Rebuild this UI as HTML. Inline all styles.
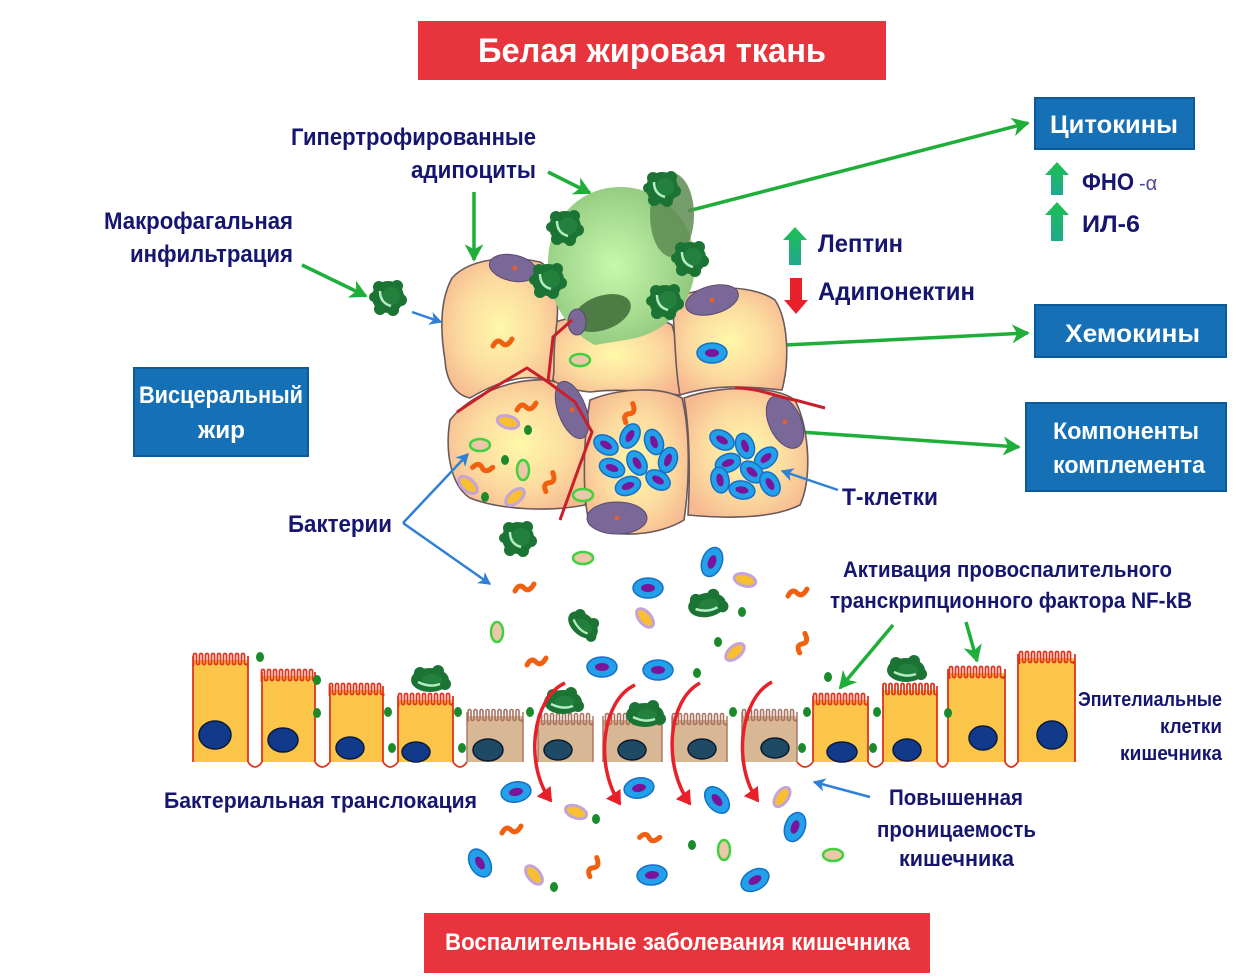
<!DOCTYPE html>
<html><head><meta charset="utf-8"><style>
html,body{margin:0;padding:0;background:#fff;}
svg{display:block;}
.t{font-family:"Liberation Sans Narrow","Liberation Sans",sans-serif;font-weight:bold;fill:#161670;}
.w{font-family:"Liberation Sans Narrow","Liberation Sans",sans-serif;font-weight:bold;fill:#fff;}
</style></head><body>
<svg width="1238" height="979" viewBox="0 0 1238 979" xmlns="http://www.w3.org/2000/svg">
<defs>
<marker id="ag" markerWidth="6" markerHeight="6" refX="4.5" refY="3" orient="auto" markerUnits="strokeWidth"><path d="M0,0.3 L5,3 L0,5.7 L1.4,3 z" fill="#1fae3a"/></marker>
<marker id="ab" markerWidth="6" markerHeight="6" refX="4.5" refY="3" orient="auto" markerUnits="strokeWidth"><path d="M0,0.3 L5,3 L0,5.7 L1.4,3 z" fill="#2f80d6"/></marker>
<marker id="ar" markerWidth="5" markerHeight="5" refX="3.5" refY="2.5" orient="auto" markerUnits="strokeWidth"><path d="M0,0 L4,2.5 L0,5 z" fill="#e8202a"/></marker>
<radialGradient id="fat" cx="0.5" cy="0.5" r="0.6"><stop offset="0" stop-color="#fff8a8"/><stop offset="0.55" stop-color="#fcdca0"/><stop offset="1" stop-color="#f6b890"/></radialGradient>
<radialGradient id="gc" cx="0.45" cy="0.5" r="0.6"><stop offset="0" stop-color="#c8f8ac"/><stop offset="1" stop-color="#8cc47a"/></radialGradient>
<linearGradient id="up" x1="0" y1="0" x2="0" y2="1"><stop offset="0" stop-color="#1ec050"/><stop offset="1" stop-color="#20a890"/></linearGradient>
<path id="vilR" fill="none" stroke="#e0341c" stroke-width="1.8" d="M0,14 V3 a1.5,1.5 0 0 1 3,0 V11 a1.5,1.5 0 0 0 3,0 V3 a1.5,1.5 0 0 1 3,0 V11 a1.5,1.5 0 0 0 3,0 V3 a1.5,1.5 0 0 1 3,0 V11 a1.5,1.5 0 0 0 3,0 V3 a1.5,1.5 0 0 1 3,0 V11 a1.5,1.5 0 0 0 3,0 V3 a1.5,1.5 0 0 1 3,0 V11 a1.5,1.5 0 0 0 3,0 V3 a1.5,1.5 0 0 1 3,0 V11 a1.5,1.5 0 0 0 3,0 V3 a1.5,1.5 0 0 1 3,0 V11 a1.5,1.5 0 0 0 3,0 V3 a1.5,1.5 0 0 1 3,0 V11 a1.5,1.5 0 0 0 3,0 V3 a1.5,1.5 0 0 1 3,0 V11 a1.5,1.5 0 0 0 3,0 V14"/>
<path id="vilB" fill="none" stroke="#a8705e" stroke-width="1.6" d="M0,14 V3 a1.5,1.5 0 0 1 3,0 V11 a1.5,1.5 0 0 0 3,0 V3 a1.5,1.5 0 0 1 3,0 V11 a1.5,1.5 0 0 0 3,0 V3 a1.5,1.5 0 0 1 3,0 V11 a1.5,1.5 0 0 0 3,0 V3 a1.5,1.5 0 0 1 3,0 V11 a1.5,1.5 0 0 0 3,0 V3 a1.5,1.5 0 0 1 3,0 V11 a1.5,1.5 0 0 0 3,0 V3 a1.5,1.5 0 0 1 3,0 V11 a1.5,1.5 0 0 0 3,0 V3 a1.5,1.5 0 0 1 3,0 V11 a1.5,1.5 0 0 0 3,0 V3 a1.5,1.5 0 0 1 3,0 V11 a1.5,1.5 0 0 0 3,0 V3 a1.5,1.5 0 0 1 3,0 V11 a1.5,1.5 0 0 0 3,0 V14"/>
<g id="mac"><circle r="16" fill="#1c7434"/><circle cx="-9" cy="-10" r="6" fill="#1c7434"/><circle cx="9" cy="-11" r="6" fill="#1c7434"/><circle cx="13" cy="3" r="6" fill="#1c7434"/><circle cx="5" cy="13" r="6" fill="#1c7434"/><circle cx="-8" cy="12" r="6" fill="#1c7434"/><circle cx="-14" cy="0" r="5" fill="#1c7434"/><circle cx="3" cy="-1" r="9" fill="#23803d"/><path d="M-8,-6 Q-8,6 3,9" fill="none" stroke="#b4ecc4" stroke-width="2.5"/></g>
<g id="mac2"><ellipse rx="19" ry="12" fill="#1c7434"/><circle cx="-10" cy="-7" r="6" fill="#1c7434"/><circle cx="8" cy="-9" r="6" fill="#1c7434"/><circle cx="15" cy="4" r="6" fill="#1c7434"/><ellipse cx="2" cy="0" rx="10" ry="6" fill="#23803d"/><path d="M-12,2 Q0,8 10,4" fill="none" stroke="#b4ecc4" stroke-width="2.5"/></g>
<g id="tc"><ellipse rx="13" ry="9" fill="#22a0ea" stroke="#1670c8" stroke-width="1.5"/><ellipse rx="6.5" ry="3.5" fill="#7a149a"/></g>
<g id="bc"><ellipse rx="15" ry="10" fill="#22a0ea" stroke="#1670c8" stroke-width="1.5"/><ellipse rx="7" ry="4" fill="#7a149a"/></g>
<path id="ow" d="M-10,3 q4,-8 9,-3 q5,5 10,-4" fill="none" stroke="#f06010" stroke-width="5" stroke-linecap="round"/>
<g id="li"><ellipse rx="11" ry="6" fill="#f8c030" stroke="#c4a4d8" stroke-width="3"/></g>
<g id="go"><ellipse rx="10" ry="6" fill="#ecc8a8" stroke="#40d040" stroke-width="2.5"/></g>
<g id="gd"><ellipse rx="4" ry="5" fill="#1a8a2a"/></g>
</defs>

<!-- Title -->
<rect x="418" y="21" width="468" height="59" fill="#e8343c"/>
<text class="w" x="478" y="62" font-size="34" textLength="348" lengthAdjust="spacingAndGlyphs">Белая жировая ткань</text>

<!-- Labels top-left -->
<text class="t" x="291" y="145" font-size="24" textLength="245" lengthAdjust="spacingAndGlyphs">Гипертрофированные</text>
<text class="t" x="411" y="178" font-size="24" textLength="125" lengthAdjust="spacingAndGlyphs">адипоциты</text>
<text class="t" x="104" y="229" font-size="24" textLength="189" lengthAdjust="spacingAndGlyphs">Макрофагальная</text>
<text class="t" x="130" y="262" font-size="24" textLength="163" lengthAdjust="spacingAndGlyphs">инфильтрация</text>

<!-- Visceral box -->
<rect x="134" y="368" width="174" height="88" fill="#1670b6" stroke="#0d5a98" stroke-width="2"/>
<text class="w" x="139" y="403" font-size="24" textLength="164" lengthAdjust="spacingAndGlyphs">Висцеральный</text>
<text class="w" x="198" y="438" font-size="24" textLength="47" lengthAdjust="spacingAndGlyphs">жир</text>

<!-- Right boxes -->
<rect x="1035" y="98" width="159" height="51" fill="#1670b6" stroke="#0d5a98" stroke-width="2"/>
<text class="w" x="1050" y="133" font-size="25" textLength="128" lengthAdjust="spacingAndGlyphs">Цитокины</text>
<rect x="1035" y="305" width="191" height="52" fill="#1670b6" stroke="#0d5a98" stroke-width="2"/>
<text class="w" x="1065" y="342" font-size="25" textLength="135" lengthAdjust="spacingAndGlyphs">Хемокины</text>
<rect x="1026" y="403" width="200" height="88" fill="#1670b6" stroke="#0d5a98" stroke-width="2"/>
<text class="w" x="1053" y="439" font-size="24" textLength="146" lengthAdjust="spacingAndGlyphs">Компоненты</text>
<text class="w" x="1053" y="473" font-size="24" textLength="152" lengthAdjust="spacingAndGlyphs">комплемента</text>

<!-- Leptin etc -->
<polygon points="795,227 807,240 801,240 801,265 789,265 789,240 783,240" fill="url(#up)"/>
<text class="t" x="818" y="252" font-size="25" textLength="85" lengthAdjust="spacingAndGlyphs">Лептин</text>
<polygon points="790,278 802,278 802,300 808,300 796,314 784,300 790,300" fill="#e8202a"/>
<text class="t" x="818" y="300" font-size="25" textLength="157" lengthAdjust="spacingAndGlyphs">Адипонектин</text>
<polygon points="1057,162 1069,175 1063,175 1063,195 1051,195 1051,175 1045,175" fill="url(#up)"/>
<text class="t" x="1082" y="190" font-size="24" textLength="52" lengthAdjust="spacingAndGlyphs">ФНО</text>
<text x="1139" y="190" font-size="20" fill="#4a4a90" font-family="Liberation Sans, sans-serif">-α</text>
<polygon points="1057,202 1069,215 1063,215 1063,241 1051,241 1051,215 1045,215" fill="url(#up)"/>
<text class="t" x="1082" y="232" font-size="24" textLength="58" lengthAdjust="spacingAndGlyphs">ИЛ-6</text>

<!-- green arrows -->
<g stroke="#1fae3a" stroke-width="3.5" fill="none" marker-end="url(#ag)">
<line x1="688" y1="211" x2="1028" y2="123"/>
<line x1="785" y1="345" x2="1028" y2="333"/>
<line x1="800" y1="432" x2="1019" y2="447"/>
<line x1="548" y1="172" x2="590" y2="193"/>
<line x1="474" y1="192" x2="474" y2="260"/>
<line x1="302" y1="265" x2="366" y2="296"/>
<line x1="893" y1="625" x2="840" y2="688"/>
<line x1="966" y1="622" x2="977" y2="661"/>
</g>

<!-- Adipocyte cluster -->
<g stroke="#6a5a5a" stroke-width="1.6" fill="url(#fat)">
<path d="M548,325 C580,310 650,312 672,325 C680,350 678,375 680,395 C650,392 620,388 590,392 C570,390 558,385 553,380 C552,360 550,340 548,325 Z"/>
<path d="M452,278 C470,258 510,255 540,262 C556,270 560,300 556,330 C552,355 556,372 552,382 C530,372 500,380 470,398 C455,395 446,380 445,360 C440,330 440,300 452,278 Z"/>
<path d="M672,300 C700,285 750,283 775,300 C788,320 790,360 782,390 C760,388 720,382 680,395 C675,370 675,330 672,300 Z"/>
</g>
<!-- green adipocyte -->
<path d="M620,187 C665,187 697,225 695,268 C693,305 665,335 625,340 L595,345 C575,335 550,310 548,268 C546,222 578,187 620,187 Z" fill="url(#gc)"/>
<ellipse cx="672" cy="215" rx="22" ry="42" fill="#5e8c52" opacity="0.85"/>
<ellipse cx="602" cy="313" rx="30" ry="17" transform="rotate(-20 602 313)" fill="#4e7c44"/>
<g stroke="#6a5a5a" stroke-width="1.6" fill="url(#fat)">
<path d="M450,420 C470,395 510,378 548,380 C570,385 588,400 592,430 C594,460 590,490 585,505 C550,512 500,510 470,498 C450,485 445,450 450,420 Z"/>
<path d="M590,400 C620,388 660,386 682,398 C690,430 690,480 684,520 C660,535 615,540 590,525 C582,500 583,440 590,400 Z"/>
<path d="M684,398 C720,385 775,385 795,400 C810,430 812,480 800,505 C770,520 720,518 688,515 C690,480 690,430 684,398 Z"/>
</g>
<!-- purple nuclei -->
<g fill="#7a6898" stroke="#5a4a70" stroke-width="1">
<ellipse cx="513" cy="268" rx="24" ry="13" transform="rotate(12 513 268)"/>
<ellipse cx="712" cy="300" rx="27" ry="14" transform="rotate(-15 712 300)"/>
<ellipse cx="572" cy="410" rx="14" ry="30" transform="rotate(-20 572 410)"/>
<ellipse cx="617" cy="518" rx="30" ry="16"/>
<ellipse cx="785" cy="422" rx="16" ry="28" transform="rotate(-25 785 422)"/>
<ellipse cx="577" cy="322" rx="9" ry="13"/>
</g>
<g fill="#e06030"><circle cx="515" cy="268" r="2.5"/><circle cx="712" cy="300" r="2.5"/><circle cx="572" cy="410" r="2.5"/><circle cx="617" cy="518" r="2.5"/><circle cx="785" cy="422" r="2.5"/></g>
<!-- vessels -->
<g stroke="#c8202a" stroke-width="3" fill="none" stroke-linejoin="round">
<path d="M457,412 L490,390 L527,368 L548,382 L553,337 L572,320"/>
<path d="M548,382 L575,402 L592,432 L578,470 L560,520"/>
<path d="M735,388 C760,388 780,398 795,400 L825,408"/>
</g>
<!-- macrophages on green cell -->
<use href="#mac" x="662" y="188"/>
<use href="#mac" x="565" y="227"/>
<use href="#mac" x="690" y="258"/>
<use href="#mac" x="548" y="280"/>
<use href="#mac" x="665" y="301"/>
<use href="#mac" x="388" y="297"/>
<!-- T cells -->
<use href="#tc" transform="translate(606,445) rotate(30)"/>
<use href="#tc" transform="translate(630,436) rotate(-60)"/>
<use href="#tc" transform="translate(654,442) rotate(70)"/>
<use href="#tc" transform="translate(668,460) rotate(-70)"/>
<use href="#tc" transform="translate(612,468) rotate(20)"/>
<use href="#tc" transform="translate(637,463) rotate(60)"/>
<use href="#tc" transform="translate(658,480) rotate(30)"/>
<use href="#tc" transform="translate(628,486) rotate(-20)"/>
<use href="#tc" transform="translate(722,440) rotate(30)"/>
<use href="#tc" transform="translate(745,446) rotate(70)"/>
<use href="#tc" transform="translate(766,458) rotate(-40)"/>
<use href="#tc" transform="translate(728,463) rotate(-20)"/>
<use href="#tc" transform="translate(752,472) rotate(40)"/>
<use href="#tc" transform="translate(770,484) rotate(60)"/>
<use href="#tc" transform="translate(742,490) rotate(10)"/>
<use href="#tc" transform="translate(720,480) rotate(80)"/>
<use href="#bc" x="712" y="353"/>
<!-- bacteria in cells -->
<use href="#ow" x="503" y="343"/>
<use href="#go" x="580" y="360"/>
<use href="#ow" x="527" y="407"/>
<use href="#li" transform="translate(508,422) rotate(15)"/>
<use href="#gd" x="528" y="430"/>
<use href="#go" x="480" y="445"/>
<use href="#ow" transform="translate(483,468) rotate(20)"/>
<use href="#gd" x="505" y="460"/>
<use href="#go" transform="translate(523,470) rotate(90)"/>
<use href="#ow" transform="translate(550,482) rotate(-50)"/>
<use href="#li" transform="translate(468,485) rotate(40)"/>
<use href="#li" transform="translate(515,497) rotate(-40)"/>
<use href="#gd" x="485" y="497"/>
<use href="#ow" transform="translate(630,413) rotate(-50)"/>
<use href="#go" x="583" y="495"/>

<!-- blue arrows (on top) -->
<g stroke="#2f80d6" stroke-width="2.5" fill="none" marker-end="url(#ab)">
<line x1="412" y1="312" x2="441" y2="322"/>
<line x1="403" y1="523" x2="468" y2="454"/>
<line x1="403" y1="523" x2="490" y2="584"/>
<line x1="838" y1="490" x2="782" y2="471"/>
<line x1="870" y1="797" x2="814" y2="782"/>
</g>

<!-- Labels middle -->
<text class="t" x="842" y="505" font-size="24" textLength="96" lengthAdjust="spacingAndGlyphs">Т-клетки</text>
<text class="t" x="288" y="532" font-size="24" textLength="104" lengthAdjust="spacingAndGlyphs">Бактерии</text>
<text class="t" x="843" y="577" font-size="22" textLength="329" lengthAdjust="spacingAndGlyphs">Активация провоспалительного</text>
<text class="t" x="830" y="608" font-size="22" textLength="362" lengthAdjust="spacingAndGlyphs">транскрипционного фактора NF-kB</text>

<!-- free bacteria upper -->
<use href="#mac" x="518" y="538"/>
<use href="#go" x="583" y="558"/>
<use href="#bc" transform="translate(712,562) rotate(-70)"/>
<use href="#li" transform="translate(745,580) rotate(15)"/>
<use href="#bc" x="648" y="588"/>
<use href="#ow" x="525" y="588"/>
<use href="#ow" x="798" y="593"/>
<use href="#mac2" transform="translate(707,605) rotate(-10)"/>
<use href="#gd" x="742" y="612"/>
<use href="#li" transform="translate(645,618) rotate(50)"/>
<use href="#mac2" transform="translate(583,625) rotate(40) scale(0.9)"/>
<use href="#go" transform="translate(497,632) rotate(90)"/>
<use href="#ow" transform="translate(803,643) rotate(-55)"/>
<use href="#gd" x="718" y="642"/>
<use href="#li" transform="translate(735,652) rotate(-40)"/>
<use href="#ow" x="537" y="662"/>
<use href="#bc" x="602" y="667"/>
<use href="#bc" x="658" y="670"/>
<use href="#gd" x="697" y="673"/>

<!-- Epithelium -->
<g>
<g fill="#fbc54a">
<rect x="193" y="660" width="55" height="102"/><rect x="262" y="676" width="53" height="86"/><rect x="330" y="690" width="53" height="72"/><rect x="398" y="700" width="55" height="62"/>
<rect x="813" y="700" width="55" height="62"/><rect x="883" y="690" width="54" height="72"/><rect x="948" y="673" width="57" height="89"/><rect x="1018" y="658" width="57" height="104"/>
</g>
<g fill="#d8b894">
<rect x="467" y="716" width="56" height="46"/><rect x="538" y="720" width="55" height="42"/><rect x="603" y="720" width="59" height="42"/><rect x="672" y="720" width="55" height="42"/><rect x="742" y="716" width="55" height="46"/>
</g>
<use href="#vilR" x="193.5" y="652"/><use href="#vilR" x="261.5" y="668"/><use href="#vilR" x="329.5" y="682"/><use href="#vilR" x="398.5" y="692"/>
<use href="#vilR" x="813.5" y="692"/><use href="#vilR" x="883" y="682"/><use href="#vilR" x="949.5" y="665"/><use href="#vilR" x="1019.5" y="650"/>
<use href="#vilB" x="468" y="708"/><use href="#vilB" x="538.5" y="712"/><use href="#vilB" x="605.5" y="712"/><use href="#vilB" x="672.5" y="712"/><use href="#vilB" x="742.5" y="708"/>
<g stroke="#e0341c" stroke-width="1.8" fill="none">
<path d="M193,656 V762 M248,656 V762 M262,672 V762 M315,672 V762 M330,686 V762 M383,686 V762 M398,696 V762 M453,696 V762"/>
<path d="M813,696 V762 M868,696 V762 M883,686 V762 M937,686 V762 M948,669 V762 M1005,669 V762 M1018,654 V762 M1075,654 V762"/>
<path d="M248,762 Q255,772 262,762 M315,762 Q322,772 330,762 M383,762 Q390,772 398,762 M453,762 Q460,772 467,762 M797,762 Q805,772 813,762 M868,762 Q875,772 883,762 M937,762 Q943,772 948,762 M1005,762 Q1011,772 1018,762"/>
</g>
<g stroke="#a8705e" stroke-width="1.4" fill="none">
<path d="M467,712 V762 M523,712 V762 M538,716 V762 M593,716 V762 M603,716 V762 M662,716 V762 M672,716 V762 M727,716 V762 M742,712 V762 M797,712 V762"/>
</g>
<g fill="#123a8a" stroke="#0a1a40" stroke-width="1.5">
<ellipse cx="215" cy="735" rx="16" ry="14"/><ellipse cx="283" cy="740" rx="15" ry="12"/><ellipse cx="350" cy="748" rx="14" ry="11"/><ellipse cx="416" cy="752" rx="14" ry="10"/>
<ellipse cx="842" cy="752" rx="15" ry="10"/><ellipse cx="907" cy="750" rx="14" ry="11"/><ellipse cx="983" cy="738" rx="14" ry="12"/><ellipse cx="1052" cy="735" rx="15" ry="14"/>
</g>
<g fill="#1e4a66" stroke="#0a1a30" stroke-width="1.5">
<ellipse cx="488" cy="750" rx="15" ry="11"/><ellipse cx="558" cy="750" rx="14" ry="10"/><ellipse cx="632" cy="750" rx="14" ry="10"/><ellipse cx="702" cy="749" rx="14" ry="10"/><ellipse cx="775" cy="748" rx="14" ry="10"/>
</g>
<use href="#gd" x="260" y="657"/><use href="#gd" x="317" y="680"/><use href="#gd" x="317" y="713"/><use href="#gd" x="388" y="712"/><use href="#gd" x="392" y="748"/><use href="#gd" x="458" y="712"/><use href="#gd" x="462" y="748"/><use href="#gd" x="530" y="712"/>
<use href="#gd" x="733" y="712"/><use href="#gd" x="807" y="712"/><use href="#gd" x="802" y="748"/><use href="#gd" x="828" y="677"/><use href="#gd" x="877" y="712"/><use href="#gd" x="873" y="748"/><use href="#gd" x="948" y="713"/>
<use href="#mac2" x="430" y="680"/>
<use href="#mac2" x="563" y="702"/>
<use href="#mac2" x="645" y="715"/>
<use href="#mac2" x="906" y="670"/>
</g>
<!-- red translocation arrows -->
<g stroke="#e8202a" stroke-width="3.5" fill="none" marker-end="url(#ar)">
<path d="M565,683 C532,698 524,765 551,801"/>
<path d="M635,685 C602,700 594,765 620,804"/>
<path d="M700,683 C668,700 662,765 690,804"/>
<path d="M772,682 C740,698 732,765 758,801"/>
</g>

<!-- Labels lower -->
<text class="t" x="1078" y="706" font-size="20" textLength="144" lengthAdjust="spacingAndGlyphs">Эпителиальные</text>
<text class="t" x="1160" y="733" font-size="20" textLength="62" lengthAdjust="spacingAndGlyphs">клетки</text>
<text class="t" x="1120" y="760" font-size="20" textLength="102" lengthAdjust="spacingAndGlyphs">кишечника</text>
<text class="t" x="164" y="808" font-size="22" textLength="313" lengthAdjust="spacingAndGlyphs">Бактериальная транслокация</text>
<text class="t" x="889" y="805" font-size="22" textLength="134" lengthAdjust="spacingAndGlyphs">Повышенная</text>
<text class="t" x="877" y="837" font-size="22" textLength="159" lengthAdjust="spacingAndGlyphs">проницаемость</text>
<text class="t" x="899" y="866" font-size="22" textLength="115" lengthAdjust="spacingAndGlyphs">кишечника</text>

<!-- lower bacteria -->
<use href="#bc" transform="translate(516,792) rotate(-10)"/>
<use href="#li" transform="translate(576,812) rotate(20)"/>
<use href="#gd" x="596" y="819"/>
<use href="#bc" transform="translate(639,788) rotate(-10)"/>
<use href="#bc" transform="translate(717,800) rotate(50)"/>
<use href="#li" transform="translate(782,797) rotate(-55)"/>
<use href="#bc" transform="translate(795,827) rotate(-70)"/>
<use href="#ow" x="512" y="830"/>
<use href="#ow" transform="translate(650,838) rotate(20)"/>
<use href="#gd" x="692" y="845"/>
<use href="#go" transform="translate(724,850) rotate(90)"/>
<use href="#go" x="833" y="855"/>
<use href="#bc" transform="translate(480,863) rotate(60)"/>
<use href="#li" transform="translate(534,875) rotate(50)"/>
<use href="#gd" x="554" y="887"/>
<use href="#ow" transform="translate(594,867) rotate(-50)"/>
<use href="#bc" transform="translate(652,875) rotate(-5)"/>
<use href="#bc" transform="translate(755,880) rotate(-30)"/>

<!-- Bottom box -->
<rect x="424" y="913" width="506" height="60" fill="#e8343c"/>
<text class="w" x="445" y="950" font-size="24" textLength="465" lengthAdjust="spacingAndGlyphs">Воспалительные заболевания кишечника</text>
</svg>
</body></html>
